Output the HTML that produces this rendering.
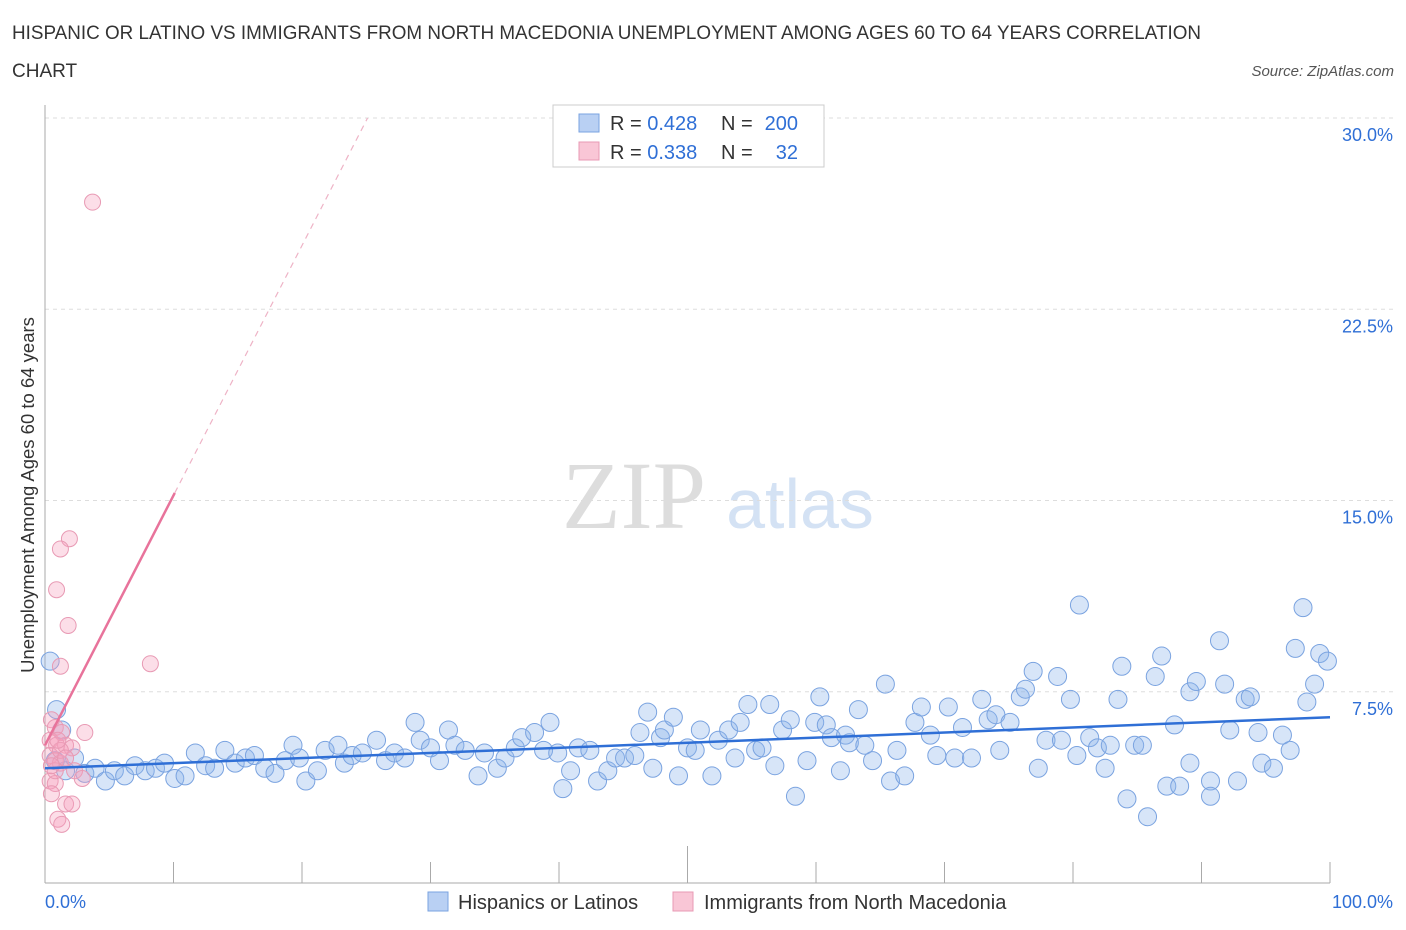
<!DOCTYPE html>
<html><head><meta charset="utf-8">
<style>
body{margin:0;background:#fff;font-family:"Liberation Sans",sans-serif;}
#wrap{position:relative;width:1406px;height:930px;overflow:hidden;}
</style></head>
<body>
<div id="wrap">
<svg id="chart" width="1406" height="930" xmlns="http://www.w3.org/2000/svg">
<text x="12" y="39" font-size="19" textLength="1189" lengthAdjust="spacingAndGlyphs" fill="#333">HISPANIC OR LATINO VS IMMIGRANTS FROM NORTH MACEDONIA UNEMPLOYMENT AMONG AGES 60 TO 64 YEARS CORRELATION</text>
<text x="12" y="77" font-size="19" fill="#333">CHART</text>
<text x="1394" y="76" font-size="15" fill="#555" text-anchor="end" font-style="italic">Source: ZipAtlas.com</text>
<text x="634" y="528" font-size="96" fill="#ddd" text-anchor="middle" font-family="Liberation Serif,serif">ZIP</text>
<text x="800" y="528" font-size="70" fill="#d4e2f4" text-anchor="middle">atlas</text>
<text transform="translate(34,495) rotate(-90)" font-size="18.5" fill="#333" text-anchor="middle">Unemployment Among Ages 60 to 64 years</text>
<g id="grid"></g><g id="axes"></g><g id="pts"></g><g id="trend"></g>
<g>
<rect x="553" y="105" width="271" height="62" fill="#fff" stroke="#ccc"/>
<rect x="579" y="114" width="20" height="18" fill="#b9d0f3" stroke="#7aa3e0"/>
<rect x="579" y="142" width="20" height="18" fill="#f9c6d6" stroke="#e89ab4"/>
<text x="610" y="130" font-size="20" fill="#333">R = <tspan fill="#2f6fd6">0.428</tspan></text>
<text x="721" y="130" font-size="20" fill="#333">N =</text>
<text x="798" y="130" font-size="20" fill="#2f6fd6" text-anchor="end">200</text>
<text x="610" y="159" font-size="20" fill="#333">R = <tspan fill="#2f6fd6">0.338</tspan></text>
<text x="721" y="159" font-size="20" fill="#333">N =</text>
<text x="798" y="159" font-size="20" fill="#2f6fd6" text-anchor="end">32</text>
</g>
<g>
<rect x="428" y="892" width="20" height="19" fill="#b9d0f3" stroke="#7aa3e0"/>
<text x="458" y="909" font-size="20" fill="#333">Hispanics or Latinos</text>
<rect x="673" y="892" width="20" height="19" fill="#f9c6d6" stroke="#e89ab4"/>
<text x="704" y="909" font-size="20" fill="#333">Immigrants from North Macedonia</text>
</g>
</svg>
</div>
<script>
const yTicks=[7.5,15,22.5,30];
const yTickLabels=["7.5%","15.0%","22.5%","30.0%"];
const xTickLabels=["0.0%","100.0%"];
const blueX=[0.4,0.9,1.3,0.8,1.6,2.3,3.1,3.9,4.7,5.4,6.2,7.0,7.8,8.6,9.3,10.1,10.9,11.7,12.5,13.2,14.0,14.8,15.6,16.3,17.1,17.9,18.7,19.3,19.8,20.3,21.2,21.8,22.8,23.3,23.9,24.7,25.8,26.5,27.2,28.0,28.8,29.2,30.0,30.7,31.4,31.9,32.7,33.7,34.2,35.2,35.8,36.6,37.1,38.1,38.8,39.3,39.9,40.3,40.9,41.5,42.4,43.0,43.8,44.4,45.1,45.9,46.3,46.9,47.3,47.9,48.2,48.9,49.3,50.0,50.6,51.0,51.9,52.4,53.2,53.7,54.1,54.7,55.3,55.8,56.4,56.8,57.4,58.0,58.4,59.3,59.9,60.3,60.8,61.2,61.9,62.3,62.6,63.3,63.8,64.4,65.4,65.8,66.3,66.9,67.7,68.2,68.9,69.4,70.3,70.8,71.4,72.1,72.9,73.4,74.0,74.3,75.1,75.9,76.3,76.9,77.3,77.9,78.8,79.1,79.8,80.3,80.5,81.3,81.9,82.5,82.9,83.5,83.8,84.2,84.8,85.4,85.8,86.4,86.9,87.3,87.9,88.3,89.1,89.1,89.6,90.7,90.7,91.4,91.8,92.2,92.8,93.4,93.8,94.4,94.7,95.6,96.3,96.9,97.3,97.9,98.2,98.8,99.2,99.8];
const blueY=[8.7,6.8,6.0,4.8,4.4,4.9,4.3,4.5,4.0,4.4,4.2,4.6,4.4,4.5,4.7,4.1,4.2,5.1,4.6,4.5,5.2,4.7,4.9,5.0,4.5,4.3,4.8,5.4,4.9,4.0,4.4,5.2,5.4,4.7,5.0,5.1,5.6,4.8,5.1,4.9,6.3,5.6,5.3,4.8,6.0,5.4,5.2,4.2,5.1,4.5,4.9,5.3,5.7,5.9,5.2,6.3,5.1,3.7,4.4,5.3,5.2,4.0,4.4,4.9,4.9,5.0,5.9,6.7,4.5,5.7,6.0,6.5,4.2,5.3,5.2,6.0,4.2,5.6,6.0,4.9,6.3,7.0,5.2,5.3,7.0,4.6,6.0,6.4,3.4,4.8,6.3,7.3,6.2,5.7,4.4,5.8,5.5,6.8,5.4,4.8,7.8,4.0,5.2,4.2,6.3,6.9,5.8,5.0,6.9,4.9,6.1,4.9,7.2,6.4,6.6,5.2,6.3,7.3,7.6,8.3,4.5,5.6,8.1,5.6,7.2,5.0,10.9,5.7,5.3,4.5,5.4,7.2,8.5,3.3,5.4,5.4,2.6,8.1,8.9,3.8,6.2,3.8,7.5,4.7,7.9,4.0,3.4,9.5,7.8,6.0,4.0,7.2,7.3,5.9,4.7,4.5,5.8,5.2,9.2,10.8,7.1,7.8,9.0,8.7];
const pinkX=[3.7,1.9,1.2,0.9,1.8,1.2,8.2,0.5,0.8,1.3,3.1,0.4,0.9,1.6,2.1,0.4,0.8,1.2,2.3,2.9,0.4,0.8,0.5,1.6,2.1,1.0,1.3,0.8,1.2,1.6,1.0,0.5];
const pinkY=[26.7,13.5,13.1,11.5,10.1,8.5,8.6,6.4,6.1,5.9,5.9,5.6,5.4,5.4,5.3,5.0,4.8,4.7,4.4,4.1,4.0,3.9,3.5,3.1,3.1,2.5,2.3,4.4,5.2,4.9,5.6,4.6];
const blueTrend=[4.5,6.5];
const pinkTrend=[5.4,0.98];
const NS="http://www.w3.org/2000/svg";
const X0=45,X1=1330,Y0=883,PY=25.5;
function sx(v){return X0+(X1-X0)*v/100;}
function sy(v){return Y0-v*PY;}
function mk(tag,attrs,parent){const e=document.createElementNS(NS,tag);for(const k in attrs)e.setAttribute(k,attrs[k]);document.getElementById(parent).appendChild(e);return e;}
yTicks.forEach((t,i)=>{
 const g=mk('line',{x1:X0,x2:1395,y1:sy(t),y2:sy(t),stroke:'#ddd','stroke-dasharray':'4,4'},'grid');
 
 
 const l=mk('text',{x:1393,y:sy(t)+23,'font-size':18,fill:'#2f6fd6','text-anchor':'end'},'grid');
 l.textContent=yTickLabels[i];
 
 
});
const ax=mk('line',{x1:X0,x2:X0,y1:105,y2:Y0,stroke:'#aaa'},'axes');


const bx=mk('line',{x1:X0,x2:X1,y1:Y0,y2:Y0,stroke:'#aaa'},'axes');


for(let i=0;i<=10;i++){
 const t=mk('line',{x1:sx(i*10),x2:sx(i*10),y1:i==5?846:862,y2:Y0,stroke:'#aaa'},'axes');
 
 
}
[[0,'start',45],[100,'end',1393]].forEach((a,i)=>{
 const l=mk('text',{x:a[2],y:908,'font-size':18,fill:'#2f6fd6','text-anchor':a[1]},'axes');
 l.textContent=xTickLabels[i];
 
 
});
blueX.forEach((x,i)=>{
 const c=mk('circle',{cx:sx(x),cy:sy(blueY[i]),r:9,fill:'rgba(140,180,235,0.35)',stroke:'#7aa3e0','stroke-width':1},'pts');
 
 
});
pinkX.forEach((x,i)=>{
 const c=mk('circle',{cx:sx(x),cy:sy(pinkY[i]),r:8,fill:'rgba(245,160,190,0.35)',stroke:'#e89ab4','stroke-width':1},'pts');
 
 
});
const bt=mk('line',{x1:sx(0),y1:sy(blueTrend[0]),x2:sx(100),y2:sy(blueTrend[1]),stroke:'#2f6fd6','stroke-width':2.5},'trend');


const pEnd=10.1, pDash=(30-pinkTrend[0])/pinkTrend[1];
const ps=mk('line',{x1:sx(0),y1:sy(pinkTrend[0]),x2:sx(pEnd),y2:sy(pinkTrend[0]+pinkTrend[1]*pEnd),stroke:'#e8739b','stroke-width':2.5},'trend');


const pd=mk('line',{x1:sx(pEnd),y1:sy(pinkTrend[0]+pinkTrend[1]*pEnd),x2:sx(pDash),y2:sy(30),stroke:'#eeb3c6','stroke-width':1.2,'stroke-dasharray':'6,5'},'trend');


</script>
</body></html>
